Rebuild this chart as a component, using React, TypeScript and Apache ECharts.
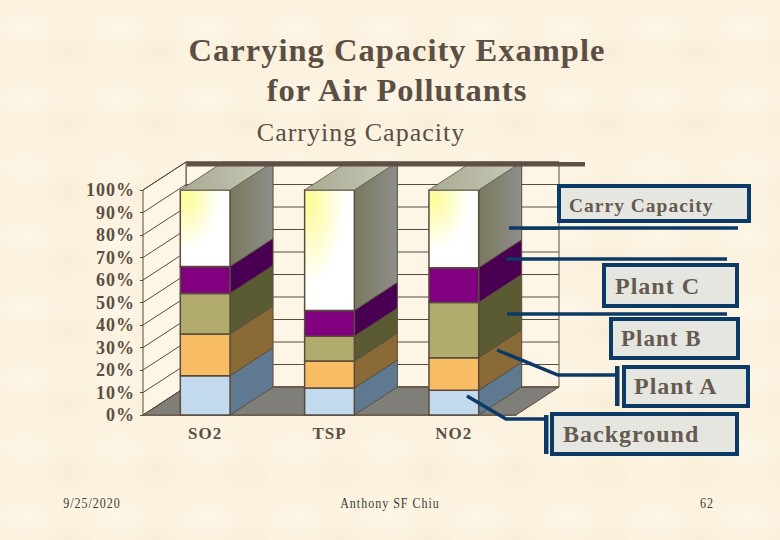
import React, { useEffect, useRef } from "react";
import * as echarts from "echarts";

const categories = ["SO2", "TSP", "NO2"];
const seriesNames = ["Background", "Plant A", "Plant B", "Plant C", "Carry Capacity"];
const background = [17.5, 12, 11];
const plantA = [18.5, 12, 14.5];
const plantB = [18, 11, 24.5];
const plantC = [12, 11.5, 15.5];
const carryCapacity = [34, 53.5, 34.5];
const frontColors = ["#c3d9ee", "#f8bc64", "#b1ab6d", "#800080", "#ffffff"];
const sideColors = ["#5f7a90", "#8a6a36", "#5b5b33", "#4a0052", "#85856f"];
const yTicks = [0, 10, 20, 30, 40, 50, 60, 70, 80, 90, 100];

const INK = "#5b4f45";
const EDGE = "#5a4c3c";
const NAVY = "#0b3a66";
const DX = 43;
const DY = 28;
const SERIF = '"Liberation Serif", serif';

function poly(points: number[][], fill: any, stroke = EDGE, lineWidth = 1) {
  return { type: "polygon", shape: { points }, style: { fill, stroke, lineWidth } };
}

function wallItem(params: any, api: any) {
  const cs = params.coordSys;
  const l = cs.x;
  const r = cs.x + cs.width;
  const y0 = api.coord([0, 0])[1];
  const y100 = api.coord([0, 100])[1];
  const children: any[] = [
    poly([[l + DX, y100 - DY], [r + DX, y100 - DY], [r + DX, y0 - DY], [l + DX, y0 - DY]], "#fdf6e6"),
    poly([[l, y100], [l + DX, y100 - DY], [l + DX, y0 - DY], [l, y0]], "#fdf6e6"),
    poly([[l, y0], [l + DX, y0 - DY], [r + DX, y0 - DY], [r, y0]], "#807e79"),
  ];
  yTicks.forEach((t) => {
    const y = api.coord([0, t])[1];
    children.push({
      type: "polyline",
      shape: { points: [[l, y], [l + DX, y - DY], [r + DX, y - DY]] },
      style: { fill: "none", stroke: EDGE, lineWidth: 1 },
    });
  });
  return { type: "group", children };
}

function layerItem(layer: number) {
  return (_params: any, api: any) => {
    const cat = api.value(0);
    const lowPt = api.coord([cat, api.value(1)]);
    const highPt = api.coord([cat, api.value(2)]);
    const w = api.size([1, 0])[0] * 0.4;
    const x0 = lowPt[0] - w / 2;
    const x1 = lowPt[0] + w / 2;
    const isTop = layer === seriesNames.length - 1;
    const front = isTop
      ? {
          type: "radial",
          x: 0.12,
          y: 0.1,
          r: 0.85,
          colorStops: [
            { offset: 0, color: "#fdfb96" },
            { offset: 0.8, color: "#ffffff" },
            { offset: 1, color: "#ffffff" },
          ],
        }
      : frontColors[layer];
    const side = isTop
      ? {
          type: "linear",
          x: 0,
          y: 0,
          x2: 1,
          y2: 0,
          colorStops: [
            { offset: 0, color: "#79795e" },
            { offset: 1, color: "#8e8e8c" },
          ],
        }
      : sideColors[layer];
    const children: any[] = [
      poly([[x1, lowPt[1]], [x1 + DX, lowPt[1] - DY], [x1 + DX, highPt[1] - DY], [x1, highPt[1]]], side, "#5a4c3c", 1),
      poly([[x0, lowPt[1]], [x1, lowPt[1]], [x1, highPt[1]], [x0, highPt[1]]], front, EDGE, 1.5),
    ];
    if (isTop) {
      children.push(
        poly(
          [[x0, highPt[1]], [x1, highPt[1]], [x1 + DX, highPt[1] - DY], [x0 + DX, highPt[1] - DY]],
          {
            type: "linear",
            x: 0,
            y: 0,
            x2: 1,
            y2: 0,
            colorStops: [
              { offset: 0, color: "#a8aa92" },
              { offset: 1, color: "#c9c9b8" },
            ],
          },
          "#6e6a5a",
          1,
        ),
      );
    }
    return { type: "group", children };
  };
}

function boxEl(x: number, y: number, w: number, h: number) {
  return {
    type: "rect",
    z: 100,
    shape: { x, y, width: w, height: h },
    style: { fill: "#e6e6e1", stroke: NAVY, lineWidth: 4 },
  };
}
function labelEl(text: string, x: number, y: number, size: number) {
  return {
    type: "text",
    z: 101,
    x,
    y,
    style: { text, fill: "#655a50", font: `bold ${size}px ${SERIF}`, textAlign: "left", textVerticalAlign: "middle" },
  };
}
function leaderEl(points: number[][]) {
  return {
    type: "polyline",
    z: 99,
    shape: { points },
    style: { fill: "none", stroke: NAVY, lineWidth: 3.5 },
  };
}
function footerEl(text: string, x: number) {
  return {
    type: "text",
    x,
    y: 503,
    scaleY: 1.18,
    style: { text, fill: "#3c3c3c", font: `12px ${SERIF}`, textAlign: "center", textVerticalAlign: "middle" },
  };
}

export default function App() {
  const ref = useRef<HTMLDivElement>(null);
  useEffect(() => {
    document.body.style.margin = "0";
    const chart = echarts.init(ref.current!, undefined, { renderer: "svg" });
    const layers = [background, plantA, plantB, plantC, carryCapacity];
    const cum = categories.map(() => 0);
    const barSeries = layers.map((vals, li) => {
      const data = vals.map((v, i) => {
        const row = [i, cum[i], cum[i] + v];
        cum[i] += v;
        return row;
      });
      return {
        type: "custom",
        name: seriesNames[li],
        z: 3,
        clip: false,
        encode: { x: 0, y: [1, 2] },
        renderItem: layerItem(li),
        data,
      };
    });
    chart.setOption({
      animation: false,
      backgroundColor: "transparent",
      title: [
        {
          text: "Carrying Capacity Example\nfor Air Pollutants",
          left: 392,
          top: 25,
          textAlign: "center",
          textStyle: { fontFamily: SERIF, fontWeight: "bold", fontSize: 32.5, color: INK, lineHeight: 40 },
        },
        {
          text: "Carrying Capacity",
          left: 356,
          top: 114,
          textAlign: "center",
          textStyle: { fontFamily: SERIF, fontWeight: "normal", fontSize: 26, color: INK },
        },
      ],
      grid: { left: 143, right: 264, top: 190, bottom: 125 },
      xAxis: {
        type: "category",
        data: categories,
        axisLine: { lineStyle: { color: EDGE, width: 1.5 } },
        axisTick: { length: 3, lineStyle: { color: EDGE } },
        axisLabel: { fontFamily: SERIF, fontWeight: "bold", fontSize: 17, color: INK, margin: 10 },
      },
      yAxis: {
        type: "value",
        min: 0,
        max: 100,
        interval: 10,
        splitLine: { show: false },
        axisLine: { show: true, lineStyle: { color: EDGE, width: 1 } },
        axisTick: { show: true, length: 3, lineStyle: { color: EDGE } },
        axisLabel: {
          formatter: (v: number) => `${v}%`,
          fontFamily: SERIF,
          fontWeight: "bold",
          fontSize: 18,
          color: INK,
          margin: 8,
        },
      },
      series: [
        {
          type: "custom",
          z: 1,
          clip: false,
          silent: true,
          encode: { x: 0, y: 1 },
          renderItem: wallItem,
          data: [[0, 0]],
        },
        ...barSeries,
      ],
      graphic: {
        elements: [
          { type: "rect", z: 50, shape: { x: 187, y: 162, width: 398, height: 4.5 }, style: { fill: "#5f5045" } },
          leaderEl([[509, 228], [738, 228]]),
          leaderEl([[506, 259], [727, 259]]),
          leaderEl([[507, 314], [727, 314]]),
          leaderEl([[497, 350], [558, 375], [615, 375]]),
          leaderEl([[467, 396], [506, 419], [544, 419]]),
          { type: "rect", z: 99, shape: { x: 615, y: 366, width: 4.5, height: 40 }, style: { fill: NAVY } },
          { type: "rect", z: 99, shape: { x: 544, y: 415, width: 4.5, height: 39 }, style: { fill: NAVY } },
          boxEl(559, 186, 190, 35),
          labelEl(seriesNames[4], 569, 205, 19.5),
          boxEl(604, 265, 133, 41),
          labelEl(seriesNames[3], 615, 286, 24),
          boxEl(611, 319, 127, 39),
          labelEl(seriesNames[2], 621, 338, 23),
          boxEl(624, 367, 124, 39),
          labelEl(seriesNames[1], 634, 386, 24),
          boxEl(552, 414, 185, 40),
          labelEl(seriesNames[0], 563, 434, 24),
          footerEl("9/25/2020", 92),
          footerEl("Anthony SF Chiu", 390),
          footerEl("62", 707),
        ],
      },
    });
    return () => chart.dispose();
  }, []);
  return (
    <div
      ref={ref}
      style={{
        position: "absolute",
        left: 0,
        top: 0,
        width: 780,
        height: 540,
        letterSpacing: "1px",
        backgroundColor: "#fbf2df",
        backgroundImage:
          "radial-gradient(ellipse 34px 18px at 30% 40%, rgba(255,250,238,.6), transparent), radial-gradient(ellipse 30px 20px at 75% 75%, rgba(245,232,205,.45), transparent)",
        backgroundSize: "90px 70px",
      }}
    />
  );
}
